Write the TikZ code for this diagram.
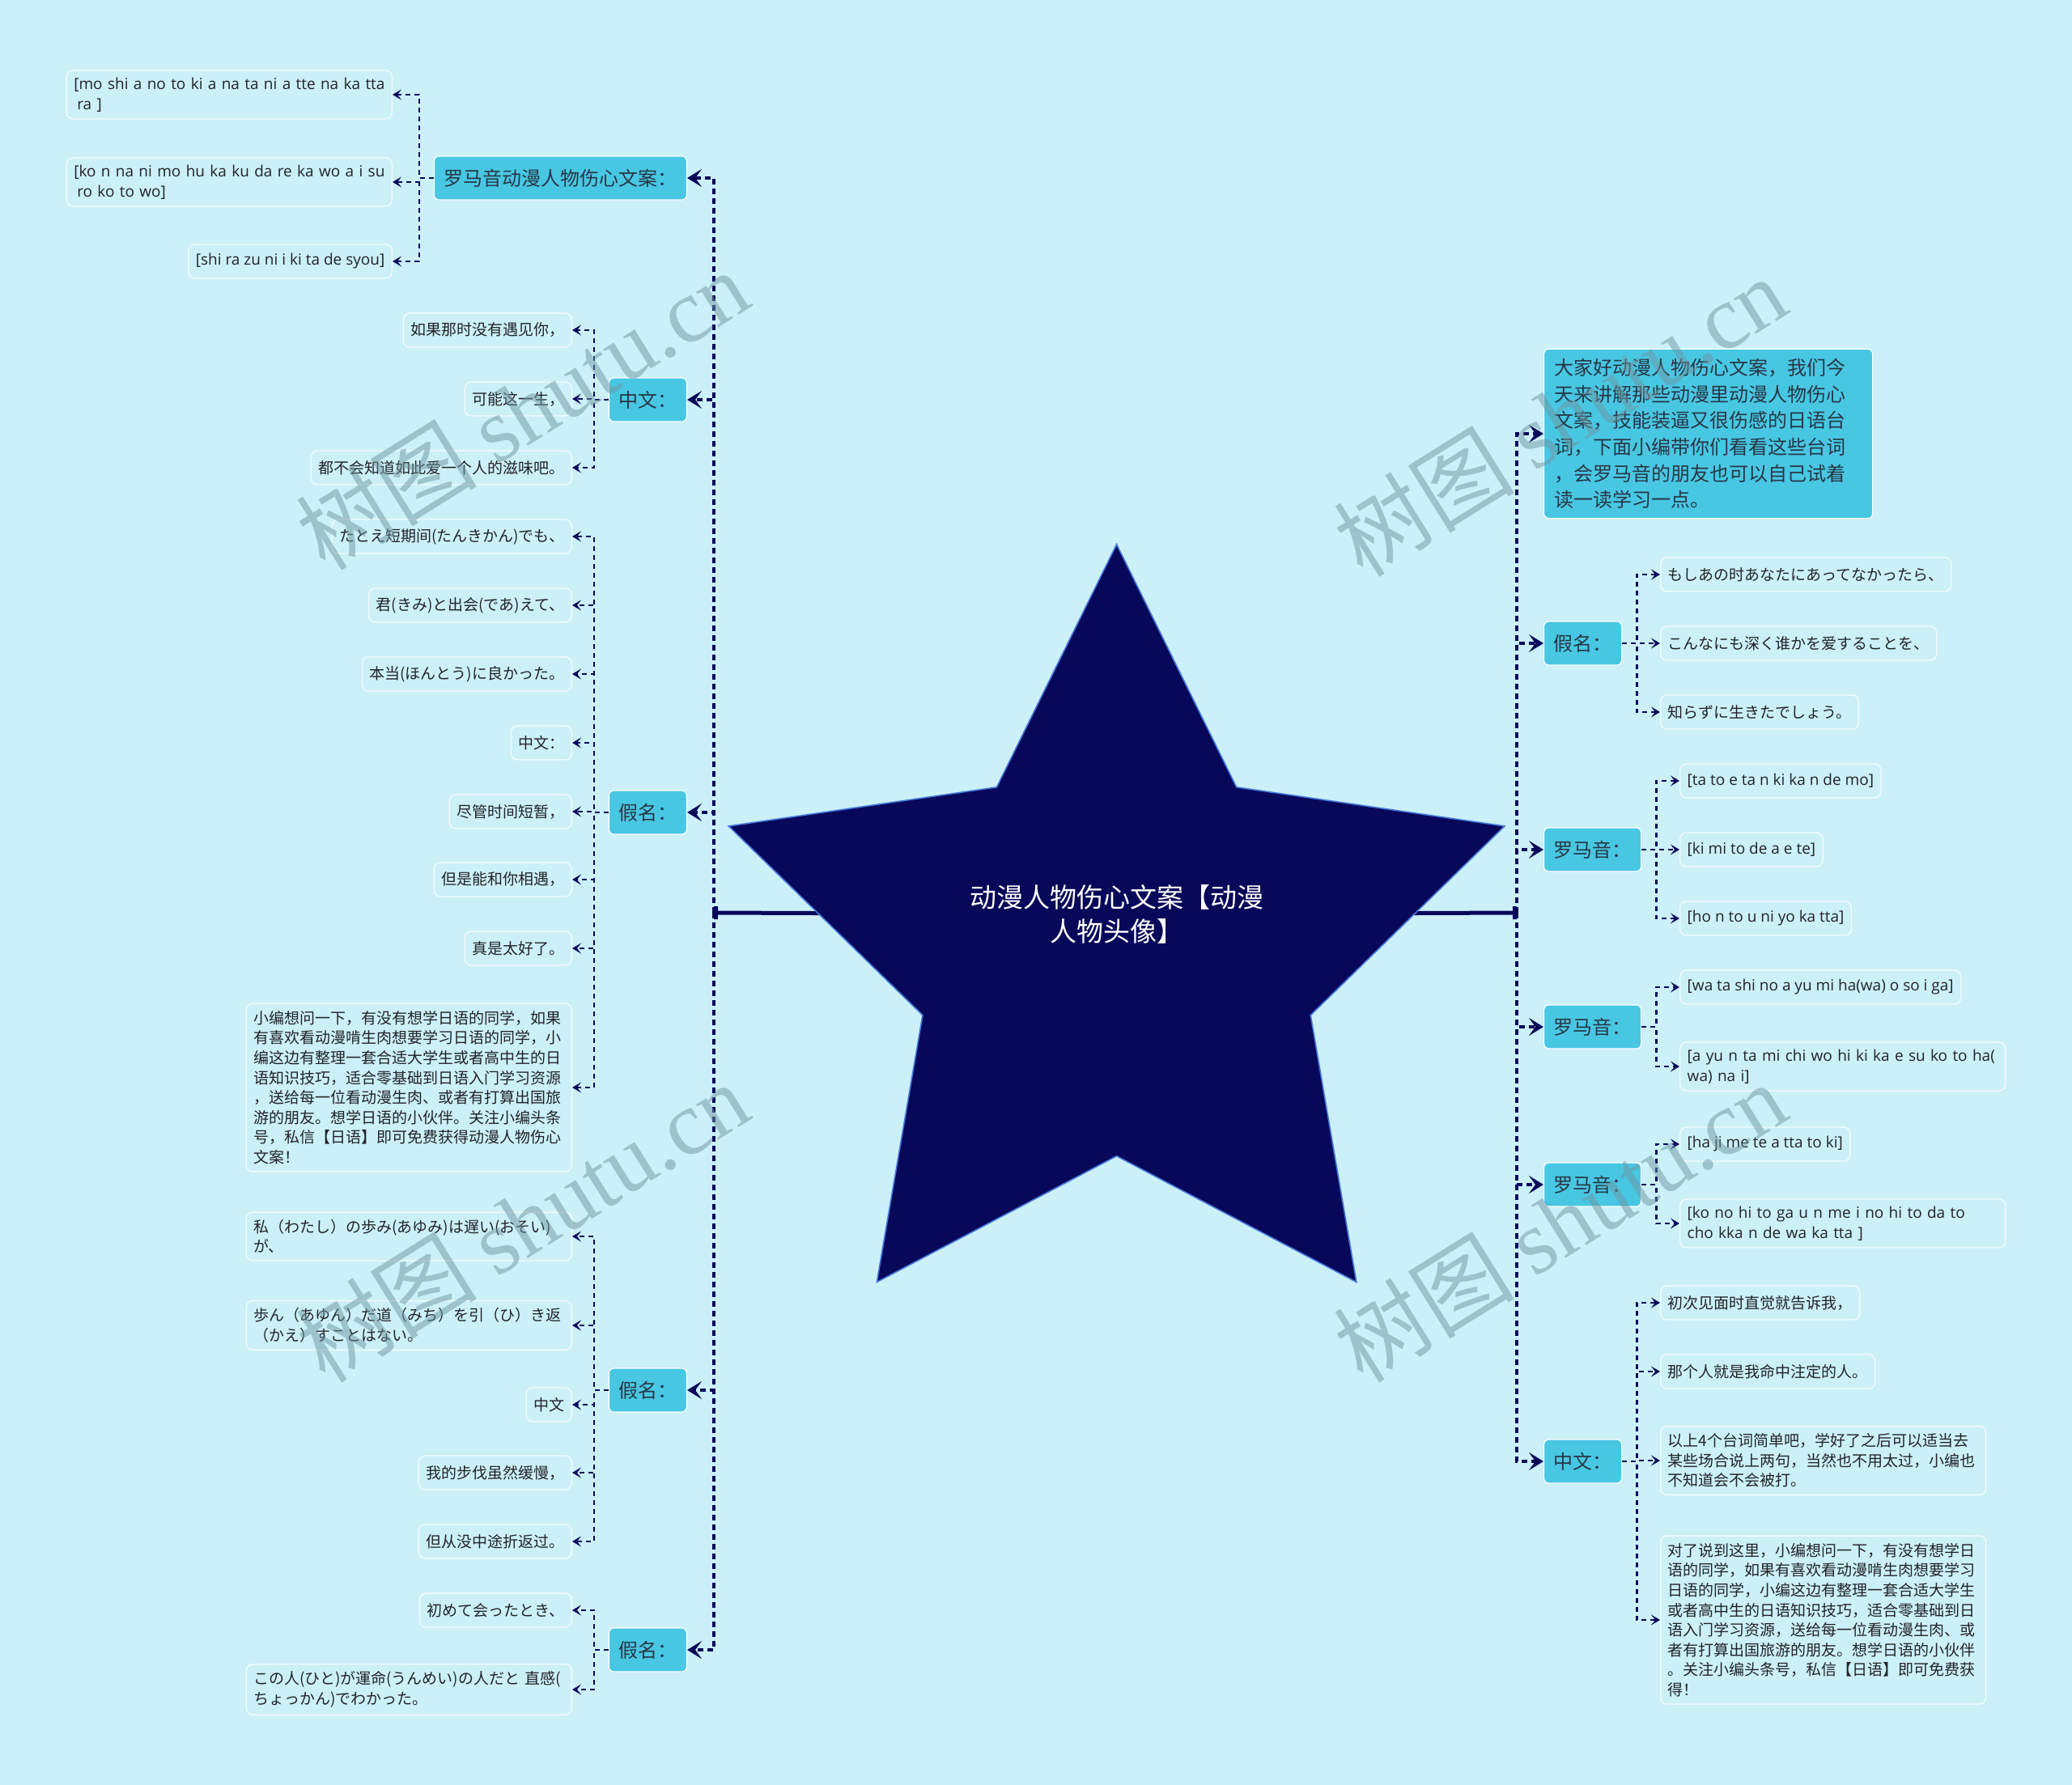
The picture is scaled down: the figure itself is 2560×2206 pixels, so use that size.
\documentclass[tikz,border=0pt]{standalone}
\usepackage{fontspec}
\setmainfont{Noto Sans CJK SC}
\newfontfamily\wmserif{Liberation Serif}
\newfontfamily\romafont{Open Sans}
\usetikzlibrary{arrows.meta}

\definecolor{bgcyan}{RGB}{203,240,248}
\definecolor{topicblue}{RGB}{72,199,227}
\definecolor{topictext}{RGB}{40,55,70}
\definecolor{leaftext}{RGB}{35,35,40}
\definecolor{leafrim}{RGB}{242,251,253}
\definecolor{navy}{RGB}{8,8,90}
\definecolor{starrim}{RGB}{70,120,220}
\definecolor{wmgrey}{RGB}{110,150,160}

\tikzset{
  topic/.style={fill=topicblue, draw=white, line width=.6pt, rounded corners=3pt,
    inner xsep=6pt, inner ysep=3pt, minimum height=27pt, text=topictext,
    font=\fontsize{12}{16.3}\selectfont},
  leaf/.style={draw=leafrim, line width=.7pt, rounded corners=4pt,
    inner xsep=4.5pt, inner ysep=4.5pt, minimum height=21pt, text=leaftext,
    align=left, font=\fontsize{9.5}{12.3}\selectfont},
  romaji/.style={font=\romafont\fontsize{9.5}{12.3}\selectfont},
  widebox/.style={text width=192pt},
  tolink/.style={navy, line width=1.7pt, dash pattern=on 3.5pt off 2.5pt,
    -{Stealth[length=9pt,width=11pt,inset=4pt]}},
  leaflink/.style={navy, line width=1.3pt, dash pattern=on 3pt off 2.5pt,
    -{Stealth[length=5.5pt,width=6.5pt,inset=2.5pt]}},
  watermark/.style={text=wmgrey, opacity=.5, rotate=32,
    font=\fontsize{56}{56}\selectfont},
}

\begin{document}
\begin{tikzpicture}[x=.5pt,y=-.5pt]
  \fill[bgcyan] (0,0) rectangle (2560,2206);
  \useasboundingbox (0,0) rectangle (2560,2206);

  \coordinate (lhub) at (882,1128);
  \coordinate (rhub) at (1874,1128);
  \coordinate (hub) at (1379.6,1130);

  \draw[navy, line width=2.5pt, {Bar[width=8pt]}-] (lhub) -- (hub);
  \draw[navy, line width=2.5pt, -{Bar[width=8pt]}] (hub) -- (rhub);

  % the star
  \begin{scope}[shift={(1379.6,1176.7)}]
    \filldraw[fill=navy, draw=starrim, line width=.8pt] (-90:504) -- (-54:252) -- (-18:504) -- (18:252) -- (54:504) -- (90:252) -- (126:504) -- (162:252) -- (198:504) -- (234:252) -- cycle;
  \end{scope}
  \node[text=white, align=center, font=\fontsize{16.5}{21}\selectfont] (root) at (hub) {动漫人物伤心文案【动漫\\人物头像】};

  % left topics
  \node[topic, anchor=east] (roma) at (849,220) {罗马音动漫人物伤心文案：};
  \node[topic, anchor=east] (zhA) at (849,494) {中文：};
  \node[topic, anchor=east] (kanaA) at (849,1004) {假名：};
  \node[topic, anchor=east] (kanaB) at (849,1718) {假名：};
  \node[topic, anchor=east] (kanaC) at (849,2039) {假名：};

  % right topics
  \node[topic, anchor=west, align=left, text width=190pt, inner xsep=6.5pt, inner ysep=6pt] (intro) at (1907,536) {大家好动漫人物伤心文案，我们今\\天来讲解那些动漫里动漫人物伤心\\文案，技能装逼又很伤感的日语台\\词，下面小编带你们看看这些台词\\，会罗马音的朋友也可以自己试着\\读一读学习一点。};
  \node[topic, anchor=west] (kanaD) at (1907,795) {假名：};
  \node[topic, anchor=west] (romaB) at (1907,1050) {罗马音：};
  \node[topic, anchor=west] (romaC) at (1907,1269) {罗马音：};
  \node[topic, anchor=west] (romaD) at (1907,1464) {罗马音：};
  \node[topic, anchor=west] (zhB) at (1907,1806) {中文：};

  \draw[tolink] (lhub) |- (roma);
  \draw[tolink] (lhub) |- (zhA);
  \draw[tolink] (lhub) |- (kanaA);
  \draw[tolink] (lhub) |- (kanaB);
  \draw[tolink] (lhub) |- (kanaC);
  \draw[tolink] (rhub) |- (intro);
  \draw[tolink] (rhub) |- (kanaD);
  \draw[tolink] (rhub) |- (romaB);
  \draw[tolink] (rhub) |- (romaC);
  \draw[tolink] (rhub) |- (romaD);
  \draw[tolink] (rhub) |- (zhB);

  % left leaves
  \node[leaf, romaji, widebox, anchor=east] (r1) at (485,117) {\mbox{[mo shi a no to ki a na ta ni a tte na ka tta}\\\hspace*{2pt}ra ]};
  \node[leaf, romaji, widebox, anchor=east] (r2) at (485,225) {\mbox{[ko n na ni mo hu ka ku da re ka wo a i su}\\\hspace*{2pt}ro ko to wo]};
  \node[leaf, romaji, anchor=east] (r3) at (485,323) {[shi ra zu ni i ki ta de syou]};

  \node[leaf, anchor=east] (z1) at (707,408) {如果那时没有遇见你，};
  \node[leaf, anchor=east] (z2) at (707,493) {可能这一生，};
  \node[leaf, anchor=east] (z3) at (707,578) {都不会知道如此爱一个人的滋味吧。};

  \node[leaf, anchor=east] (k1) at (707,663) {たとえ短期间(たんきかん)でも、};
  \node[leaf, anchor=east] (k2) at (707,748) {君(きみ)と出会(であ)えて、};
  \node[leaf, anchor=east] (k3) at (707,833) {本当(ほんとう)に良かった。};
  \node[leaf, anchor=east] (k4) at (707,918) {中文：};
  \node[leaf, anchor=east] (k5) at (707,1003) {尽管时间短暂，};
  \node[leaf, anchor=east] (k6) at (707,1087) {但是能和你相遇，};
  \node[leaf, anchor=east] (k7) at (707,1172) {真是太好了。};
  \node[leaf, widebox, anchor=east] (k8) at (707,1344) {小编想问一下，有没有想学日语的同学，如果\\有喜欢看动漫啃生肉想要学习日语的同学，小\\编这边有整理一套合适大学生或者高中生的日\\语知识技巧，适合零基础到日语入门学习资源\\，送给每一位看动漫生肉、或者有打算出国旅\\游的朋友。想学日语的小伙伴。关注小编头条\\号，私信【日语】即可免费获得动漫人物伤心\\文案！};

  \node[leaf, widebox, anchor=east] (m1) at (707,1528) {\mbox{私（わたし）の歩み(あゆみ)は遅い(おそい)}\\が、};
  \node[leaf, widebox, anchor=east] (m2) at (707,1638) {\mbox{歩ん（あゆん）だ道（みち）を引（ひ）き返}\\（かえ）すことはない。};
  \node[leaf, anchor=east] (m3) at (707,1736) {中文};
  \node[leaf, anchor=east] (m4) at (707,1820) {我的步伐虽然缓慢，};
  \node[leaf, anchor=east] (m5) at (707,1905) {但从没中途折返过。};

  \node[leaf, anchor=east] (n1) at (707,1990) {初めて会ったとき、};
  \node[leaf, widebox, anchor=east] (n2) at (707,2088) {\mbox{この人(ひと)が運命(うんめい)の人だと 直感(}\\ちょっかん)でわかった。};

  % right leaves
  \node[leaf, anchor=west] (j1) at (2051,710) {もしあの时あなたにあってなかったら、};
  \node[leaf, anchor=west] (j2) at (2051,795) {こんなにも深く谁かを爱することを、};
  \node[leaf, anchor=west] (j3) at (2051,880) {知らずに生きたでしょう。};

  \node[leaf, romaji, anchor=west] (p1) at (2075,965) {[ta to e ta n ki ka n de mo]};
  \node[leaf, romaji, anchor=west] (p2) at (2075,1050) {[ki mi to de a e te]};
  \node[leaf, romaji, anchor=west] (p3) at (2075,1135) {[ho n to u ni yo ka tta]};

  \node[leaf, romaji, anchor=west] (q1) at (2075,1220) {[wa ta shi no a yu mi ha(wa) o so i ga]};
  \node[leaf, romaji, widebox, anchor=west] (q2) at (2075,1318) {\mbox{[a yu n ta mi chi wo hi ki ka e su ko to ha(}\\wa) na i]};

  \node[leaf, romaji, anchor=west] (s1) at (2075,1414) {[ha ji me te a tta to ki]};
  \node[leaf, romaji, widebox, anchor=west] (s2) at (2075,1512) {\mbox{[ko no hi to ga u n me i no hi to da to}\\cho kka n de wa ka tta ]};

  \node[leaf, anchor=west] (t1) at (2051,1610) {初次见面时直觉就告诉我，};
  \node[leaf, anchor=west] (t2) at (2051,1695) {那个人就是我命中注定的人。};
  \node[leaf, widebox, anchor=west] (t3) at (2051,1805) {以上4个台词简单吧，学好了之后可以适当去\\某些场合说上两句，当然也不用太过，小编也\\不知道会不会被打。};
  \node[leaf, widebox, anchor=west] (t4) at (2051,2002) {对了说到这里，小编想问一下，有没有想学日\\语的同学，如果有喜欢看动漫啃生肉想要学习\\日语的同学，小编这边有整理一套合适大学生\\或者高中生的日语知识技巧，适合零基础到日\\语入门学习资源，送给每一位看动漫生肉、或\\者有打算出国旅游的朋友。想学日语的小伙伴\\。关注小编头条号，私信【日语】即可免费获\\得！};

  % leaf links
  \draw[leaflink] (roma.west) -- ++(-18,0) |- (r1);
  \draw[leaflink] (roma.west) -- ++(-18,0) |- (r2);
  \draw[leaflink] (roma.west) -- ++(-18,0) |- (r3);
  \draw[leaflink] (zhA.west) -- ++(-18,0) |- (z1);
  \draw[leaflink] (zhA.west) -- ++(-18,0) |- (z2);
  \draw[leaflink] (zhA.west) -- ++(-18,0) |- (z3);
  \draw[leaflink] (kanaA.west) -- ++(-18,0) |- (k1);
  \draw[leaflink] (kanaA.west) -- ++(-18,0) |- (k2);
  \draw[leaflink] (kanaA.west) -- ++(-18,0) |- (k3);
  \draw[leaflink] (kanaA.west) -- ++(-18,0) |- (k4);
  \draw[leaflink] (kanaA.west) -- ++(-18,0) |- (k5);
  \draw[leaflink] (kanaA.west) -- ++(-18,0) |- (k6);
  \draw[leaflink] (kanaA.west) -- ++(-18,0) |- (k7);
  \draw[leaflink] (kanaA.west) -- ++(-18,0) |- (k8);
  \draw[leaflink] (kanaB.west) -- ++(-18,0) |- (m1);
  \draw[leaflink] (kanaB.west) -- ++(-18,0) |- (m2);
  \draw[leaflink] (kanaB.west) -- ++(-18,0) |- (m3);
  \draw[leaflink] (kanaB.west) -- ++(-18,0) |- (m4);
  \draw[leaflink] (kanaB.west) -- ++(-18,0) |- (m5);
  \draw[leaflink] (kanaC.west) -- ++(-18,0) |- (n1);
  \draw[leaflink] (kanaC.west) -- ++(-18,0) |- (n2);

  \draw[leaflink] (kanaD.east) -- ++(18,0) |- (j1);
  \draw[leaflink] (kanaD.east) -- ++(18,0) |- (j2);
  \draw[leaflink] (kanaD.east) -- ++(18,0) |- (j3);
  \draw[leaflink] (romaB.east) -- ++(18,0) |- (p1);
  \draw[leaflink] (romaB.east) -- ++(18,0) |- (p2);
  \draw[leaflink] (romaB.east) -- ++(18,0) |- (p3);
  \draw[leaflink] (romaC.east) -- ++(18,0) |- (q1);
  \draw[leaflink] (romaC.east) -- ++(18,0) |- (q2);
  \draw[leaflink] (romaD.east) -- ++(18,0) |- (s1);
  \draw[leaflink] (romaD.east) -- ++(18,0) |- (s2);
  \draw[leaflink] (zhB.east) -- ++(18,0) |- (t1);
  \draw[leaflink] (zhB.east) -- ++(18,0) |- (t2);
  \draw[leaflink] (zhB.east) -- ++(18,0) |- (t3);
  \draw[leaflink] (zhB.east) -- ++(18,0) |- (t4);

  % watermarks
  \node[watermark] (wm1) at (645,506) {树图 {\wmserif shutu.cn}};
  \node[watermark] (wm2) at (1927,514) {树图 {\wmserif shutu.cn}};
  \node[watermark] (wm3) at (645,1510) {树图 {\wmserif shutu.cn}};
  \node[watermark] (wm4) at (1927,1510) {树图 {\wmserif shutu.cn}};
\end{tikzpicture}
\end{document}
